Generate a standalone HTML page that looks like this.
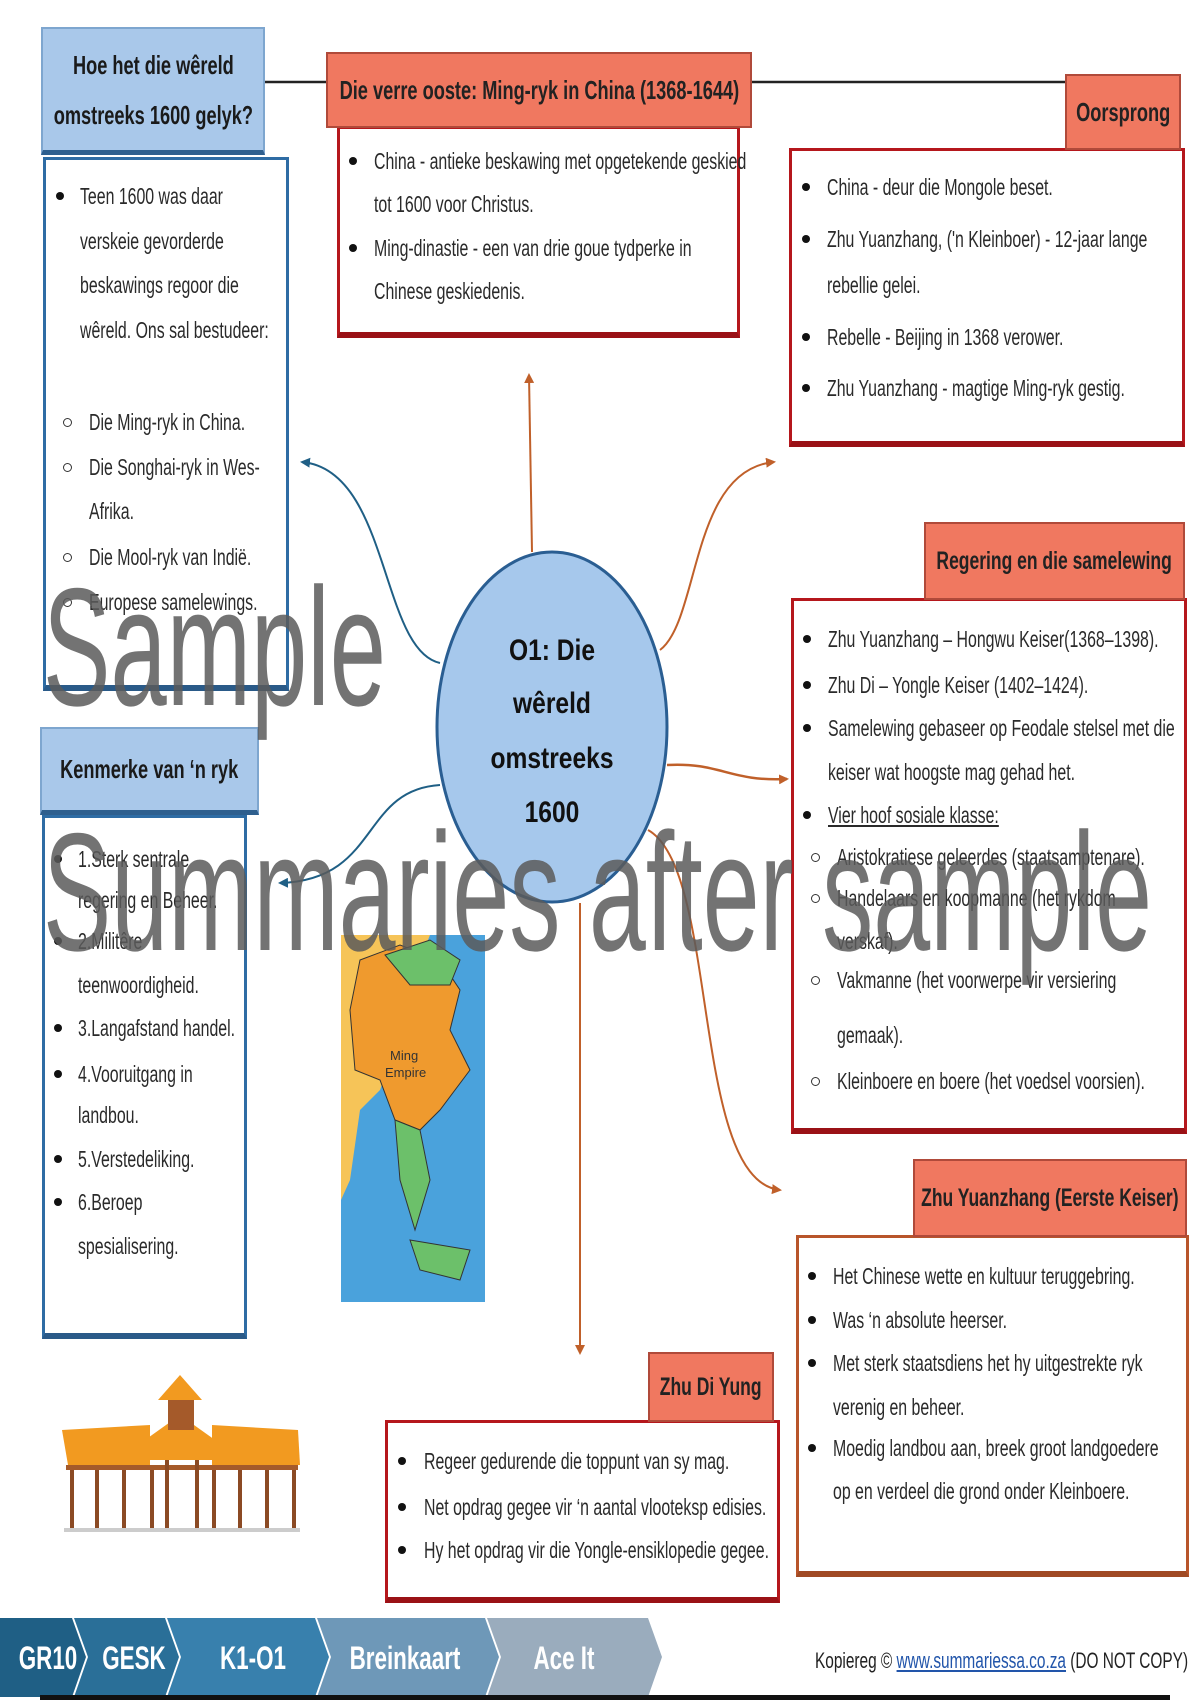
<!DOCTYPE html>
<html><head><meta charset="utf-8"><style>
*{margin:0;padding:0;box-sizing:border-box}
body{width:1200px;height:1700px;background:#fff;position:relative;overflow:hidden;font-family:"Liberation Sans",sans-serif;color:#222}
.a{position:absolute}
.hb{position:absolute;background:#a9c8ea;border:2px solid #7ea6cf;border-bottom:5px solid #2e5f8e;display:flex;align-items:center;justify-content:center;text-align:center;font-weight:bold;color:#1a1a1a;overflow:visible}
.hr{position:absolute;background:#f07860;border:2px solid #b04a3a;display:flex;align-items:center;justify-content:center;text-align:center;font-weight:bold;color:#222;overflow:visible}
.bx{position:absolute;background:#fff;border:3px solid #b5171c;border-bottom:6px solid #9a1116}
.bb{position:absolute;background:#fff;border:3px solid #2e6ca4;border-bottom:6px solid #2a5a88}
.t{position:absolute;white-space:nowrap;font-size:23px;line-height:26px;transform:scaleX(0.69);transform-origin:0 50%;color:#2a2a2a}
.hd{display:inline-block;transform:scaleX(0.7);white-space:nowrap;flex:none}
.d{position:absolute;width:8px;height:8px;border-radius:50%;background:#111}
.o{position:absolute;width:9px;height:9px;border-radius:50%;border:1.5px solid #333}
</style></head><body>

<svg class="a" style="left:0;top:0" width="1200" height="1700">
<defs>
<marker id="mo" markerWidth="10" markerHeight="10" refX="8" refY="5" orient="auto" markerUnits="userSpaceOnUse"><path d="M0,0 L10,5 L0,10 z" fill="#c0602a"/></marker>
<marker id="mb" markerWidth="10" markerHeight="10" refX="8" refY="5" orient="auto" markerUnits="userSpaceOnUse"><path d="M0,0 L10,5 L0,10 z" fill="#1f5f85"/></marker>
</defs>
<line x1="264" y1="82" x2="1070" y2="82" stroke="#222" stroke-width="2.5"/>
<path d="M440,663 C380,650 390,470 302,462" fill="none" stroke="#1f5f85" stroke-width="2" marker-end="url(#mb)"/>
<path d="M440,785 C360,790 380,880 280,883" fill="none" stroke="#1f5f85" stroke-width="2" marker-end="url(#mb)"/>
<path d="M532,552 L529,375" fill="none" stroke="#c0602a" stroke-width="2" marker-end="url(#mo)"/>
<path d="M660,650 C700,620 690,470 774,462" fill="none" stroke="#c0602a" stroke-width="2" marker-end="url(#mo)"/>
<path d="M667,765 C720,762 730,782 787,779" fill="none" stroke="#c0602a" stroke-width="2.5" marker-end="url(#mo)"/>
<path d="M648,830 C720,870 690,1180 780,1190" fill="none" stroke="#c0602a" stroke-width="2" marker-end="url(#mo)"/>
<path d="M580,903 L580,1353" fill="none" stroke="#c0602a" stroke-width="2" marker-end="url(#mo)"/>
<ellipse cx="552" cy="727" rx="115" ry="175" fill="#a6c8ec" stroke="#2a5e92" stroke-width="3"/>
<g font-family="Liberation Sans" font-weight="bold" font-size="30" fill="#111" text-anchor="middle">
<text x="552" y="660" transform="translate(552 0) scale(0.82 1) translate(-552 0)">O1: Die</text>
<text x="552" y="713" transform="translate(552 0) scale(0.82 1) translate(-552 0)">wêreld</text>
<text x="552" y="768" transform="translate(552 0) scale(0.82 1) translate(-552 0)">omstreeks</text>
<text x="552" y="822" transform="translate(552 0) scale(0.82 1) translate(-552 0)">1600</text>
</g>
<!-- map -->
<rect x="341" y="935" width="144" height="367" fill="#4aa2dc"/>
<path d="M341,935 L430,935 L420,960 L400,990 L395,1050 L380,1090 L360,1110 L350,1180 L341,1200 Z" fill="#f6c458"/>
<path d="M360,960 L400,945 L440,960 L460,990 L450,1030 L470,1070 L440,1110 L420,1130 L395,1120 L380,1080 L355,1070 L350,1010 Z" fill="#ef9a2e" stroke="#333" stroke-width="1"/>
<path d="M385,955 L430,940 L460,960 L450,985 L410,985 Z" fill="#6cc06a" stroke="#333" stroke-width="1"/>
<path d="M395,1120 L420,1130 L430,1180 L415,1230 L400,1180 Z" fill="#6cc06a" stroke="#333" stroke-width="1"/>
<path d="M410,1240 L470,1250 L460,1280 L420,1270 Z" fill="#6cc06a" stroke="#333" stroke-width="1"/>
<text x="390" y="1060" font-size="13" font-family="Liberation Sans" fill="#333">Ming</text>
<text x="385" y="1077" font-size="13" font-family="Liberation Sans" fill="#333">Empire</text>
<!-- pagoda -->
<g>
<polygon points="62,1430 150,1425 150,1465 68,1465" fill="#f29a20"/>
<polygon points="212,1425 298,1430 300,1465 212,1465" fill="#f29a20"/>
<polygon points="145,1440 180,1415 215,1440 218,1460 145,1460" fill="#f29a20"/>
<polygon points="158,1400 180,1375 202,1400" fill="#f29a20"/>
<rect x="168" y="1400" width="26" height="30" fill="#a55a2a"/>
<rect x="66" y="1465" width="232" height="5" fill="#a55a2a"/>
<g fill="#8b4a24"><rect x="70" y="1470" width="4" height="58"/><rect x="95" y="1470" width="4" height="58"/><rect x="122" y="1470" width="4" height="58"/><rect x="150" y="1470" width="4" height="58"/><rect x="165" y="1460" width="4" height="68"/><rect x="195" y="1460" width="4" height="68"/><rect x="212" y="1470" width="4" height="58"/><rect x="238" y="1470" width="4" height="58"/><rect x="265" y="1470" width="4" height="58"/><rect x="292" y="1470" width="4" height="58"/></g>
<rect x="64" y="1528" width="236" height="4" fill="#ccc"/>
</g>
<!-- footer -->
<polygon points="0,1618 72,1618 86,1657 72,1697 0,1697" fill="#1f5f85"/>
<polygon points="74,1618 165,1618 179,1657 165,1697 74,1697 88,1657" fill="#2a6f98"/>
<polygon points="167,1618 315,1618 329,1657 315,1697 167,1697 181,1657" fill="#3880ad"/>
<polygon points="317,1618 485,1618 499,1657 485,1697 317,1697 331,1657" fill="#6e98b8"/>
<polygon points="487,1618 648,1618 662,1657 648,1697 487,1697 501,1657" fill="#9aacbd"/>
<g font-family="Liberation Sans" font-weight="bold" font-size="32" fill="#fff" text-anchor="middle">
<text x="48" y="1669" transform="translate(48 0) scale(0.7 1) translate(-48 0)">GR10</text>
<text x="134" y="1669" transform="translate(134 0) scale(0.7 1) translate(-134 0)">GESK</text>
<text x="253" y="1669" transform="translate(253 0) scale(0.7 1) translate(-253 0)">K1-O1</text>
<text x="405" y="1669" transform="translate(405 0) scale(0.7 1) translate(-405 0)">Breinkaart</text>
<text x="564" y="1669" transform="translate(564 0) scale(0.7 1) translate(-564 0)">Ace It</text>
</g>
<rect x="40" y="1695" width="1130" height="5" fill="#111"/>
</svg>

<div class="a" style="left:815px;top:1648px;font-size:22px;transform:scaleX(0.7);transform-origin:0 50%;white-space:nowrap;color:#222">Kopiereg © <span style="color:#2255aa;text-decoration:underline">www.summariessa.co.za</span> (DO NOT COPY)</div>

<!-- Hoe het -->
<div class="bb" style="left:43px;top:157px;width:246px;height:534px"></div>
<div class="hb" style="left:41px;top:27px;width:224px;height:128px;font-size:26px;line-height:50px"><span class="hd">Hoe het die wêreld<br>omstreeks 1600 gelyk?</span></div>
<div class="d" style="left:56px;top:192px"></div>
<div class="t" style="left:80px;top:183px">Teen 1600 was daar</div>
<div class="t" style="left:80px;top:228px">verskeie gevorderde</div>
<div class="t" style="left:80px;top:272px">beskawings regoor die</div>
<div class="t" style="left:80px;top:317px">wêreld. Ons sal bestudeer:</div>
<div class="o" style="left:63px;top:418px"></div><div class="t" style="left:89px;top:409px">Die Ming-ryk in China.</div>
<div class="o" style="left:63px;top:463px"></div><div class="t" style="left:89px;top:454px">Die Songhai-ryk in Wes-</div>
<div class="t" style="left:89px;top:498px">Afrika.</div>
<div class="o" style="left:63px;top:553px"></div><div class="t" style="left:89px;top:544px">Die Mool-ryk van Indië.</div>
<div class="o" style="left:63px;top:598px"></div><div class="t" style="left:89px;top:589px">Europese samelewings.</div>

<!-- Ming -->
<div class="bx" style="left:337px;top:126px;width:403px;height:212px"></div>
<div class="hr" style="left:326px;top:52px;width:426px;height:76px;font-size:26px"><span class="hd">Die verre ooste: Ming-ryk in China (1368-1644)</span></div>
<div class="d" style="left:349px;top:157px"></div><div class="t" style="left:374px;top:148px">China - antieke beskawing met opgetekende geskied</div>
<div class="t" style="left:374px;top:191px">tot 1600 voor Christus.</div>
<div class="d" style="left:349px;top:244px"></div><div class="t" style="left:374px;top:235px">Ming-dinastie - een van drie goue tydperke in</div>
<div class="t" style="left:374px;top:278px">Chinese geskiedenis.</div>

<!-- Oorsprong -->
<div class="bx" style="left:789px;top:148px;width:396px;height:299px"></div>
<div class="hr" style="left:1065px;top:74px;width:116px;height:76px;font-size:26px"><span class="hd">Oorsprong</span></div>
<div class="d" style="left:802px;top:183px"></div><div class="t" style="left:827px;top:174px">China - deur die Mongole beset.</div>
<div class="d" style="left:802px;top:235px"></div><div class="t" style="left:827px;top:226px">Zhu Yuanzhang, ('n Kleinboer) - 12-jaar lange</div>
<div class="t" style="left:827px;top:272px">rebellie gelei.</div>
<div class="d" style="left:802px;top:333px"></div><div class="t" style="left:827px;top:324px">Rebelle - Beijing in 1368 verower.</div>
<div class="d" style="left:802px;top:384px"></div><div class="t" style="left:827px;top:375px">Zhu Yuanzhang - magtige Ming-ryk gestig.</div>

<!-- Regering -->
<div class="bx" style="left:791px;top:598px;width:396px;height:536px"></div>
<div class="hr" style="left:924px;top:522px;width:261px;height:78px;font-size:25px"><span class="hd">Regering en die samelewing</span></div>
<div class="d" style="left:803px;top:635px"></div><div class="t" style="left:828px;top:626px">Zhu Yuanzhang – Hongwu Keiser(1368–1398).</div>
<div class="d" style="left:803px;top:681px"></div><div class="t" style="left:828px;top:672px">Zhu Di – Yongle Keiser (1402–1424).</div>
<div class="d" style="left:803px;top:724px"></div><div class="t" style="left:828px;top:715px">Samelewing gebaseer op Feodale stelsel met die</div>
<div class="t" style="left:828px;top:759px">keiser wat hoogste mag gehad het.</div>
<div class="d" style="left:803px;top:811px"></div><div class="t" style="left:828px;top:802px;text-decoration:underline">Vier hoof sosiale klasse:</div>
<div class="o" style="left:811px;top:853px"></div><div class="t" style="left:837px;top:844px">Aristokratiese geleerdes (staatsamptenare).</div>
<div class="o" style="left:811px;top:894px"></div><div class="t" style="left:837px;top:885px">Handelaars en koopmanne (het rykdom</div>
<div class="t" style="left:837px;top:928px">verskaf).</div>
<div class="o" style="left:811px;top:976px"></div><div class="t" style="left:837px;top:967px">Vakmanne (het voorwerpe vir versiering</div>
<div class="t" style="left:837px;top:1022px">gemaak).</div>
<div class="o" style="left:811px;top:1077px"></div><div class="t" style="left:837px;top:1068px">Kleinboere en boere (het voedsel voorsien).</div>

<!-- Kenmerke -->
<div class="bb" style="left:42px;top:815px;width:205px;height:524px"></div>
<div class="hb" style="left:40px;top:727px;width:219px;height:88px;font-size:26px"><span class="hd">Kenmerke van ‘n ryk</span></div>
<div class="d" style="left:54px;top:855px"></div><div class="t" style="left:78px;top:846px">1.Sterk sentrale</div>
<div class="t" style="left:78px;top:887px">regering en Beheer.</div>
<div class="d" style="left:54px;top:937px"></div><div class="t" style="left:78px;top:928px">2.Militêre</div>
<div class="t" style="left:78px;top:972px">teenwoordigheid.</div>
<div class="d" style="left:54px;top:1024px"></div><div class="t" style="left:78px;top:1015px">3.Langafstand handel.</div>
<div class="d" style="left:54px;top:1070px"></div><div class="t" style="left:78px;top:1061px">4.Vooruitgang in</div>
<div class="t" style="left:78px;top:1102px">landbou.</div>
<div class="d" style="left:54px;top:1155px"></div><div class="t" style="left:78px;top:1146px">5.Verstedeliking.</div>
<div class="d" style="left:54px;top:1198px"></div><div class="t" style="left:78px;top:1189px">6.Beroep</div>
<div class="t" style="left:78px;top:1233px">spesialisering.</div>

<!-- Zhu Yuanzhang -->
<div class="bx" style="left:796px;top:1235px;width:393px;height:342px;border-color:#b8552a;border-bottom-color:#a04a24"></div>
<div class="hr" style="left:913px;top:1159px;width:274px;height:78px;font-size:25px"><span class="hd">Zhu Yuanzhang (Eerste Keiser)</span></div>
<div class="d" style="left:808px;top:1272px"></div><div class="t" style="left:833px;top:1263px">Het Chinese wette en kultuur teruggebring.</div>
<div class="d" style="left:808px;top:1316px"></div><div class="t" style="left:833px;top:1307px">Was ‘n absolute heerser.</div>
<div class="d" style="left:808px;top:1359px"></div><div class="t" style="left:833px;top:1350px">Met sterk staatsdiens het hy uitgestrekte ryk</div>
<div class="t" style="left:833px;top:1394px">verenig en beheer.</div>
<div class="d" style="left:808px;top:1444px"></div><div class="t" style="left:833px;top:1435px">Moedig landbou aan, breek groot  landgoedere</div>
<div class="t" style="left:833px;top:1478px">op en verdeel die grond onder Kleinboere.</div>

<!-- Zhu Di -->
<div class="bx" style="left:385px;top:1420px;width:395px;height:183px"></div>
<div class="hr" style="left:648px;top:1352px;width:126px;height:70px;font-size:25px"><span class="hd">Zhu Di Yung</span></div>
<div class="d" style="left:398px;top:1457px"></div><div class="t" style="left:424px;top:1448px">Regeer gedurende die toppunt van sy mag.</div>
<div class="d" style="left:398px;top:1503px"></div><div class="t" style="left:424px;top:1494px">Net opdrag gegee vir ‘n aantal vlooteksp edisies.</div>
<div class="d" style="left:398px;top:1546px"></div><div class="t" style="left:424px;top:1537px">Hy het opdrag vir die Yongle-ensiklopedie gegee.</div>

<!-- watermark on top -->
<svg class="a" style="left:0;top:0;pointer-events:none" width="1200" height="1700">
<text x="43" y="705" font-family="Liberation Sans" font-size="168" fill="#5a5a5a" fill-opacity="0.85" textLength="343" lengthAdjust="spacingAndGlyphs">Sample</text>
<text x="43" y="950" font-family="Liberation Sans" font-size="168" fill="#5a5a5a" fill-opacity="0.85" textLength="1109" lengthAdjust="spacingAndGlyphs">Summaries after sample</text>
</svg>
</body></html>
